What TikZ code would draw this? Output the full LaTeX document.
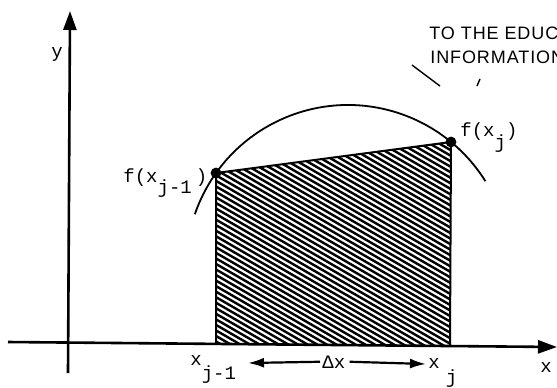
\documentclass[tikz,border=0pt]{standalone}
\usepackage{fontspec}
\setmainfont{Liberation Sans}
\setmonofont{Liberation Mono}
\newfontfamily\stampfont[LetterSpace=5]{Liberation Sans}
\usetikzlibrary{arrows.meta}

\newcommand{\lowsub}[2][6pt]{\raisebox{-#1}{#2}}

\begin{document}
\begin{tikzpicture}[x=0.5pt,y=-0.5pt,>=Latex]
  \tikzstyle{axis}=[line width=1.3pt,-{Triangle[length=9.5pt,width=6.5pt]}]
  \tikzstyle{curve}=[line width=0.9pt]
  \tikzstyle{hatch}=[line width=1.2pt]
  \tikzstyle{span}=[line width=1.1pt,-{Latex[length=8pt,width=5pt]}]
  \tikzstyle{dot}=[circle,fill,inner sep=0pt,minimum size=5.4pt]
  \tikzstyle{lbl}=[font=\ttfamily\fontsize{9.5}{11}\selectfont,inner sep=0pt,anchor=base west]
  \tikzstyle{stamp}=[font=\stampfont\fontsize{9}{10}\selectfont,inner sep=0pt,anchor=base west]
  \useasboundingbox (0,0) rectangle (557,387);
  \clip (0,0) rectangle (557,387);
  % axes
  \coordinate (xs) at (8,342);
  \coordinate (xe) at (557,347);
  \coordinate (ys) at (68,373);
  \coordinate (ye) at (70,11);
  \draw[axis] (xs) -- (xe);
  \draw[axis] (ys) -- (ye);
  % trapezoid under the chord
  \node[dot] (fa) at (216,173) {};
  \node[dot] (fb) at (451,142) {};
  \coordinate (xa) at (216,344);
  \coordinate (xb) at (450,345);
  \begin{scope}
    \clip (xa) -- (fa.center) -- (fb.center) -- (xb) -- cycle;
    \foreach \c in {-50,-44.46,...,350}
      \draw[hatch] (200,\c) -- ++(270,155.9);
  \end{scope}
  \draw[line width=1pt] (xa) -- (fa.center) -- (fb.center) -- (xb);
  % the function
  \coordinate (arcc) at (348,267);
  \draw[curve] (arcc) ++(-161:162) arc[start angle=-161,end angle=-32,radius=162];
  % labels
  \node[lbl] (fal) at (123,182) {f(x\lowsub[5.5pt]{j-1}\hspace{2pt})};
  \node[lbl] (fbl) at (460,136) {f(x\lowsub[6pt]{j})};
  \node[lbl] (xal) at (190,365) {x\lowsub[7pt]{j-1}};
  \node[lbl] (xbl) at (428,368) {x\hspace{3pt}\lowsub[7.5pt]{j}};
  \node[lbl] (dx) at (322,368) {Δx};
  \node[lbl] (xlab) at (540,372) {x};
  \node[lbl] (ylab) at (51,57) {y};
  \coordinate (la) at (248,363);
  \coordinate (ra) at (426,364);
  \draw[span] ([xshift=-1pt]dx.west) -- (la);
  \draw[span] ([xshift=2pt]dx.east) -- (ra);
  % stamp text, cut at the edge
  \node[stamp] (st1) at (429,39) {TO THE EDUC};
  \node[stamp] (st2) at (430,63) {INFORMATION};
  \draw[line width=0.7pt] (412,65) -- (440,86);
  \draw[line width=0.7pt] (477,86) -- (480,79);
\end{tikzpicture}
\end{document}
